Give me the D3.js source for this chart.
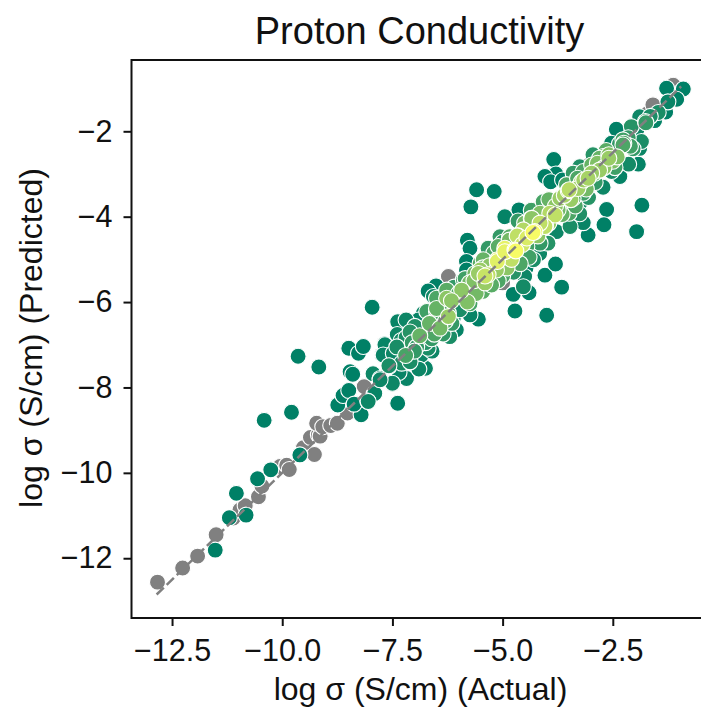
<!DOCTYPE html>
<html><head><meta charset="utf-8">
<script src="https://d3js.org/d3.v7.min.js"></script>
<style>html,body{margin:0;background:#fff}svg{display:block}text{font-family:"Liberation Sans",Arial,sans-serif;fill:#111}</style>
</head><body><svg id="c" width="701" height="709"></svg>
<script>
const titleText = "Proton Conductivity";
const xLabel = "log σ (S/cm) (Actual)";
const yLabel = "log σ (S/cm) (Predicted)";
const xTicks = [-12.5,-10,-7.5,-5,-2.5];
const yTicks = [-2,-4,-6,-8,-10,-12];
const xDomain = [-13.42,-0.34];
const yDomain = [-13.4,-0.33];
const lineEnds = [-12.85,-0.95];
const grayActual = [-12.83,-12.26,-11.92,-11.5,-11.11,-10.96,-10.84,-10.54,-10.46,-10.05,-9.9,-9.84,-9.52,-9.27,-9.36,-9.18,-9.14,-9.22,-9.08,-8.9,-8.75,-8.52,-8.14,-1.13,-1.7,-6.2,-1.59,-1.0,-6.23,-2.5,-3.0,-5.0];
const grayPredicted = [-12.56,-12.23,-11.95,-11.45,-11.06,-10.87,-10.77,-10.56,-10.31,-9.85,-9.82,-9.92,-9.41,-9.57,-9.17,-9.11,-9.14,-8.84,-8.92,-8.89,-8.84,-8.6,-7.98,-0.92,-1.58,-5.44,-1.38,-1.11,-5.4,-2.3,-2.75,-5.55];
const actual = [
-11.52,-11.2,-10.82,-11.04,-10.56,-10.26,-10.41,-9.79,-9.6,-9.64,-9.17,-7.38,-8.21,-8.74,-8.62,-8.49,-8.37,-8.06,-7.92,-8.46,-8.4,-8.49,-8.27,-8.16,-7.94,-7.78,-7.68,-7.73,-7.5,-7.57,-7.18,-6.91,-7.96,-7.38,-7.19,-7.39,-7.19,-6.99,-6.88,-6.61,-6.69,-6.84,-7.2,-7.29,-7.58,-7.67,-7.71,-7.48,-6.9,-6.75,-7.5,-7.78,-7.9,-8.05,-6.72,-6.5,-6.27,-6.5,-6.23,-6.2,-6.27,
-5.59,-5.19,-5.72,-4.95,-4.63,-5.8,-5.74,-5.82,-5.82,-6.51,-6.69,-4.76,-4.4,-4.72,-4.0,-5.55,-5.74,-6.05,-4.47,-4.04,-3.8,-3.66,-4.16,-3.97,-4.08,-4.35,-4.03,-4.27,-4.65,-4.72,-4.95,-5.12,-5.1,-5.33,-5.51,-5.33,-5.0,-5.14,-5.63,-5.51,-5.93,-6.16,-5.74,-6.23,-6.5,-6.66,-6.42,-6.99,-7.19,-4.45,-4.15,-4.3,-5.44,-4.15,-3.81,-3.93,-4.53,-4.84,-5.06,-5.51,-5.89,-6.35,-5.97,-6.05,-6.12,-6.57,-6.8,-6.91,-4.53,
-1.28,-0.9,-1.25,-1.47,-1.76,-1.89,-2.08,-2.42,-2.25,-2.04,-1.89,-1.85,-2.14,-1.92,-2.57,-2.72,-2.91,-2.98,-3.17,-2.8,-2.53,-2.34,-2.72,-3.84,-3.79,-4.04,-3.91,-3.64,-3.21,-3.06,-3.29,-3.51,-3.7,-3.4,-3.17,-3.25,-3.49,-3.74,-3.89,-4.04,-3.17,-3.47,-3.06,-2.64,-2.7,-1.84,-1.96,-3.25,-3.78,-2.53,-2.95,-3.25,-3.4,-2.59,-2.41,-2.27,
-4.31,-4.7,-4.95,-5.12,-4.67,-5.4,-5.55,-5.0,-4.03,-4.34,-3.49,-3.29,-2.98,-3.16,-2.59,-1.75,-2.27,-2.8,
-6.6,-6.45,-6.3,-6.55,-6.35,-6.15,-6.1,-6.0,-5.85,-5.75,-5.65,-5.8,-5.6,-5.45,-5.4,-5.3,-5.45,-5.25,-5.1,-5.2,-5.0,-4.9,-4.8,-4.6,-4.75,-4.5,-4.85,-4.55,-4.45,-4.4,-4.2,-4.5,-4.65,-4.35,-4.15,-3.95,-3.8,-3.95,-3.65,-3.6,-3.45,-3.35,-3.55,-3.3,-3.1,-3.05,-2.9,-2.85,-2.7,-2.65,-2.5,-2.45,-2.4,-2.35,-2.15,-2.1,-2.0,-1.95,-1.65,-1.55,-1.3,-1.05,
-7.05,-6.95,-6.75,-6.6,-7.4,-7.3,-7.1,-7.0,-7.35,-7.1];
const predicted = [
-11.81,-11.05,-10.99,-10.48,-10.14,-9.93,-8.77,-8.58,-9.58,-7.27,-7.52,-8.37,-8.64,-8.41,-8.19,-8.07,-8.39,-8.32,-8.16,-7.63,-7.69,-7.08,-7.2,-7.04,-7.68,-7.79,-6.98,-7.24,-7.9,-7.5,-7.79,-7.55,-6.12,-6.46,-6.42,-6.76,-6.83,-6.61,-6.79,-6.86,-7.08,-7.24,-7.25,-7.43,-7.49,-7.0,-7.24,-7.2,-7.57,-7.55,-7.92,-7.82,-8.14,-8.33,-6.22,-6.15,-5.91,-5.91,-6.34,-6.81,-5.72,
-3.37,-3.41,-3.77,-4.0,-3.84,-4.55,-4.74,-5.05,-5.25,-5.62,-5.74,-5.82,-5.78,-6.21,-6.31,-6.4,-6.3,-6.65,-5.21,-5.37,-5.11,-5.65,-4.86,-4.62,-3.65,-4.04,-4.19,-4.35,-4.45,-4.78,-4.74,-5.01,-4.7,-4.74,-5.25,-5.36,-5.36,-5.25,-5.33,-5.48,-5.72,-5.97,-6.04,-6.26,-6.22,-6.5,-6.61,-6.57,-6.79,-4.7,-4.62,-5.01,-5.01,-3.92,-3.96,-3.92,-4.31,-4.47,-4.47,-5.09,-5.48,-5.87,-6.18,-6.03,-6.38,-5.87,-6.26,-6.42,-5.64,
-0.99,-1.01,-1.31,-1.56,-1.77,-1.66,-1.89,-1.95,-2.28,-2.41,-2.4,-2.24,-2.77,-2.77,-2.63,-2.59,-2.98,-2.79,-2.94,-2.91,-2.94,-3.06,-3.31,-2.66,-3.0,-3.06,-3.18,-3.14,-3.18,-3.1,-3.31,-3.39,-3.57,-3.57,-3.45,-3.69,-3.92,-3.84,-4.0,-4.23,-4.14,-4.23,-4.43,-3.83,-4.19,-3.73,-4.35,-3.93,-4.35,-2.28,-2.55,-2.83,-2.98,-2.55,-2.44,-2.2,
-4.37,-4.8,-4.82,-5.05,-4.45,-5.39,-5.33,-5.39,-4.23,-4.04,-3.37,-3.34,-2.98,-3.14,-2.63,-1.8,-2.32,-2.63,
-6.3,-6.35,-6.45,-6.75,-6.75,-6.5,-5.65,-5.8,-5.45,-5.55,-5.5,-6.0,-5.8,-5.75,-5.55,-5.15,-5.2,-5.6,-5.5,-4.85,-4.6,-5.2,-5.0,-5.1,-5.3,-5.4,-4.55,-4.65,-4.5,-4.95,-4.45,-4.15,-4.1,-3.85,-4.15,-4.15,-3.75,-3.6,-3.95,-3.5,-3.6,-3.75,-3.25,-3.1,-3.35,-3.55,-3.2,-2.75,-2.85,-2.45,-2.7,-2.85,-2.6,-2.3,-2.15,-2.35,-2.15,-1.95,-1.65,-1.75,-1.55,-1.25,
-6.95,-7.05,-6.95,-7.15,-7.05,-6.9,-7.4,-7.15,-7.65,-6.7];
const density = [
0,0,0,0,0,0,0,0,0,0,0,0,0,0,0,0,0,.05,.03,0,0,0,0,0,.05,.05,.03,.03,.05,.1,.03,.03,0,.03,.05,.05,.1,.12,.4,.2,.1,.05,.28,.1,.1,.03,.03,.05,.05,.03,.03,.05,.03,.05,.25,.4,.55,.3,.6,.1,.35,
0,0,0,.02,0,0,0,0,0,0,0,0,0,0,0,0,.03,.02,0,0,0,0,.05,.15,.28,.55,.7,.95,.75,.95,.9,.88,.35,.2,.6,.75,.3,.6,.45,.4,.55,.55,.28,.35,.25,.4,.45,.12,.03,.25,.2,.1,.4,.5,.75,.7,.7,.35,.2,.35,.25,.25,.1,.05,.02,.05,.03,.03,.08,
0,0,.03,.1,.2,.05,.15,0,.3,.2,.05,.1,.08,.02,.5,.4,.4,.4,.3,.6,.1,.02,.05,0,0,0,0,0,.6,.65,.55,.7,.6,.35,.25,.1,.3,.45,.6,.75,.03,.1,0,0,0,0,0,.12,.05,.02,.15,.12,.2,.5,.15,.25,
.97,.97,.9,.88,.75,.78,.6,.3,.72,.55,.72,.62,.6,.62,.6,.2,.3,.4,
.2,.3,.35,.3,.2,.2,.2,.35,.25,.45,.5,.5,.45,.35,.6,.55,.4,.35,.3,.3,.2,.55,.75,.3,.15,.05,.45,.8,.85,.25,.55,.45,.2,.25,.75,.6,.55,.4,.4,.65,.6,.3,.3,.3,.45,.15,.2,.5,.55,.35,.5,.25,.5,.2,.2,.25,.05,.05,.1,.02,0,0,
.2,.2,.15,.05,.1,.08,.1,.2,.03,.15];

const x = d3.scaleLinear().domain(xDomain).range([131.5,708]);
const y = d3.scaleLinear().domain(yDomain).range([618,60]);
const summer = d3.interpolateRgb("rgb(0,128,102)","rgb(255,255,102)");
const svg = d3.select("#c");

const grayPts = grayActual.map((a,i)=>({a,p:grayPredicted[i],c:"#808080"}));
const colorPts = actual.map((a,i)=>({a,p:predicted[i],s:density[i],c:summer(density[i])})).sort((m,n)=>m.s-n.s);
const g = svg.append("g");
g.selectAll("circle").data(grayPts.concat(colorPts)).join("circle")
 .attr("cx",d=>x(d.a)).attr("cy",d=>y(d.p)).attr("r",8)
 .attr("fill",d=>d.c).attr("stroke","#fff").attr("stroke-width",1.1);

svg.append("line").attr("x1",x(lineEnds[0])).attr("y1",y(lineEnds[0])).attr("x2",x(lineEnds[1])).attr("y2",y(lineEnds[1]))
 .attr("stroke","#808080").attr("stroke-width",2.5).attr("stroke-dasharray","10,4");

const ax = d3.axisBottom(x).tickValues(xTicks).tickSize(8).tickPadding(13).tickFormat(d=>d3.format(".1f")(d).replace("-","\u2212"));
const ay = d3.axisLeft(y).tickValues(yTicks).tickSize(8).tickPadding(11).tickFormat(d=>String(d).replace("-","\u2212"));
const gx = svg.append("g").attr("transform","translate(0,618)").call(ax);
const gy = svg.append("g").attr("transform","translate(131.5,0)").call(ay);
[gx,gy].forEach(a=>{a.select(".domain").remove();a.selectAll("line").attr("stroke","#111").attr("stroke-width",2);a.selectAll("text").attr("font-size",30.5).attr("fill","#111").style("font-family",'"Liberation Sans",Arial,sans-serif');});
svg.append("rect").attr("x",131.5).attr("y",60).attr("width",576.5).attr("height",558).attr("fill","none").attr("stroke","#111").attr("stroke-width",2);

svg.append("text").attr("x",419.5).attr("y",44).attr("text-anchor","middle").attr("font-size",38).text(titleText);
svg.append("text").attr("x",420.5).attr("y",700).attr("text-anchor","middle").attr("font-size",32).text(xLabel);
svg.append("text").attr("transform","translate(42,338) rotate(-90)").attr("text-anchor","middle").attr("font-size",32).text(yLabel);
</script></body></html>
